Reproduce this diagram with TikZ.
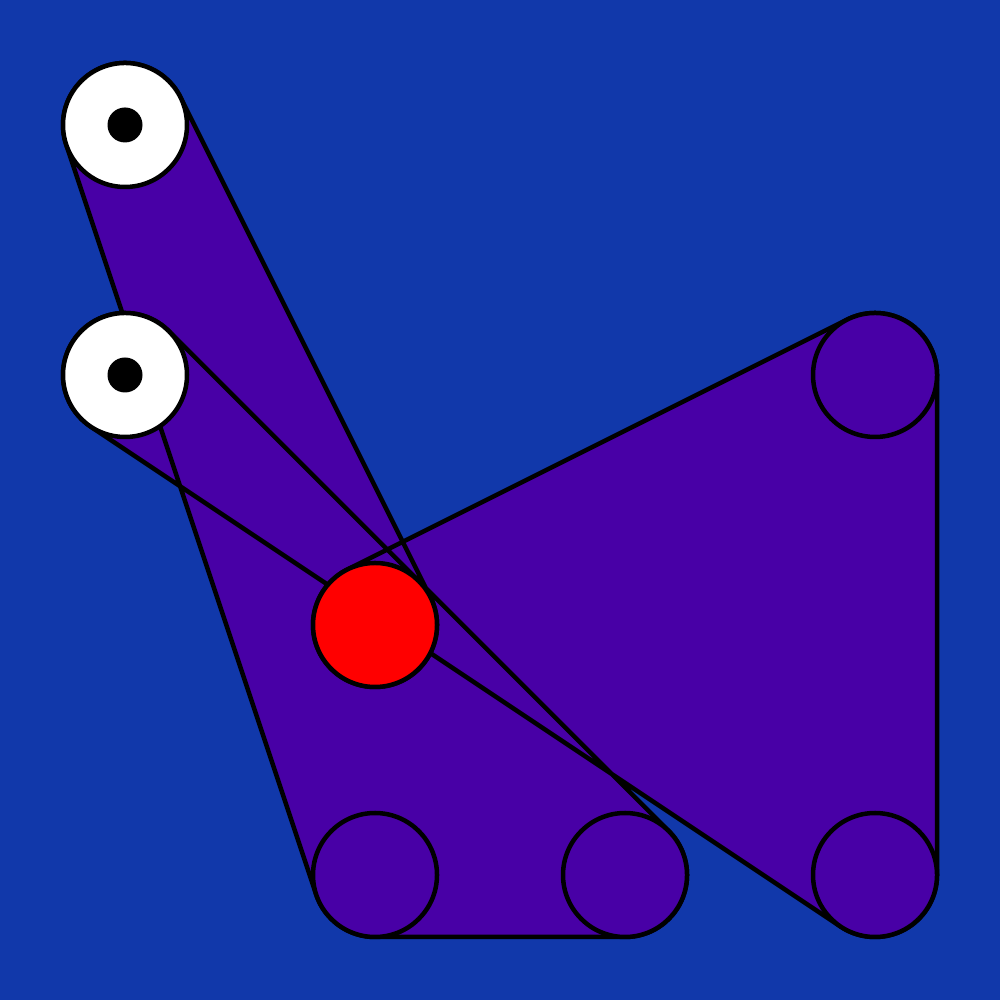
\documentclass[tikz,border=0pt]{standalone}
\usetikzlibrary{calc}
\definecolor{bgblue}{RGB}{17,56,170}
\definecolor{beltpurple}{RGB}{72,0,166}
\definecolor{pred}{RGB}{255,0,0}
\tikzset{
  beltline/.style={draw=black,line width=0.45mm,fill=beltpurple,line join=round},
  pulley/.style={circle,draw=black,line width=0.45mm,minimum size=1.24cm,inner sep=0pt,outer sep=0pt},
  idler/.style={pulley,fill=white},
  driver/.style={pulley,fill=pred},
  plain/.style={pulley,fill=beltpurple},
  hub/.style={circle,fill=black,minimum size=0.35cm,inner sep=0pt}
}
\begin{document}
\begin{tikzpicture}
\fill[bgblue] (0,0) rectangle (10,10);
\useasboundingbox (0,0) rectangle (10,10);
\coordinate (A) at (1.25,8.75);
\coordinate (B) at (1.25,6.25);
\coordinate (C) at (3.75,3.75);
\coordinate (D) at (3.75,1.25);
\coordinate (E) at (6.25,1.25);
\coordinate (F) at (8.75,6.25);
\coordinate (G) at (8.75,1.25);
\def\r{0.62}
\path[beltline]
  ($(A)+(26.565:\r)$) arc[start angle=26.565,end angle=198.435,radius=\r]
  -- ($(D)+(198.435:\r)$) arc[start angle=198.435,end angle=270,radius=\r]
  -- ($(E)+(270:\r)$) arc[start angle=270,end angle=405,radius=\r]
  -- ($(B)+(45:\r)$) arc[start angle=45,end angle=236.31,radius=\r]
  -- ($(G)+(236.31:\r)$) arc[start angle=236.31,end angle=360,radius=\r]
  -- ($(F)+(0:\r)$) arc[start angle=0,end angle=116.565,radius=\r]
  -- ($(C)+(116.565:\r)$) arc[start angle=116.565,end angle=386.565,radius=\r]
  -- cycle;
\node[idler] (pA) at (A) {};
\node[hub] (hA) at (A) {};
\node[idler] (pB) at (B) {};
\node[hub] (hB) at (B) {};
\node[driver] (pC) at (C) {};
\node[plain] (pD) at (D) {};
\node[plain] (pE) at (E) {};
\node[plain] (pF) at (F) {};
\node[plain] (pG) at (G) {};
\end{tikzpicture}
\end{document}
